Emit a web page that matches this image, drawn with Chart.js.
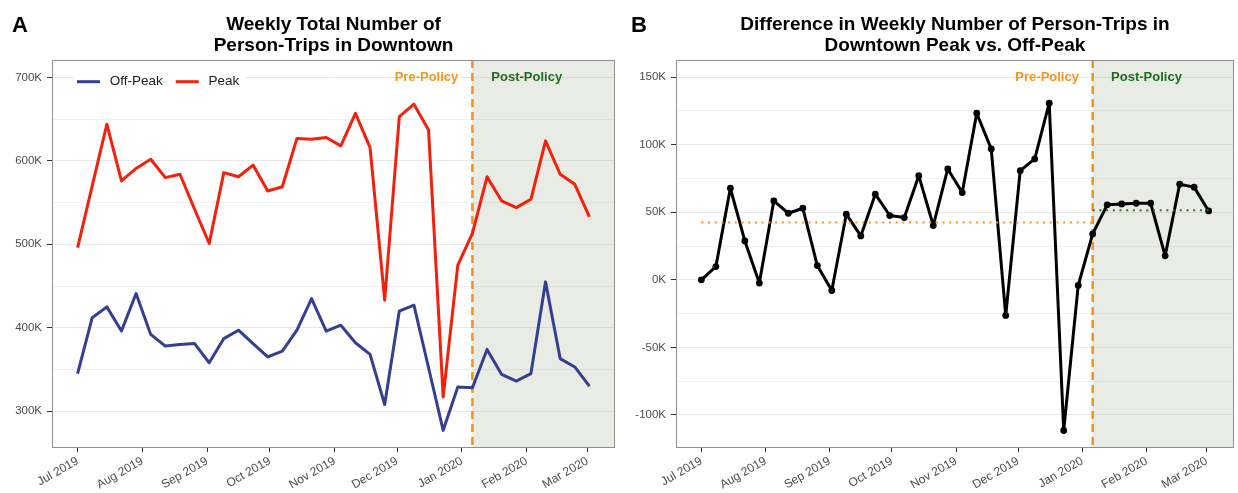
<!DOCTYPE html>
<html>
<head>
<meta charset="utf-8">
<title>Downtown person-trips</title>
<script src="https://cdn.jsdelivr.net/npm/chart.js@4.4.1/dist/chart.umd.min.js"></script>
<style>
  html, body { margin:0; padding:0; background:#fff; }
  #wrap { position:relative; width:1238px; height:493px; }
  canvas { position:absolute; top:0; }
  #chartA { left:0; }
  #chartB { left:619px; }
</style>
</head>
<body>
<div id="wrap">
  <canvas id="chartA" width="619" height="493"></canvas>
  <canvas id="chartB" width="619" height="493"></canvas>
</div>
<script>
// === Data ===
var weeks = ['2019-07-01','2019-07-08','2019-07-15','2019-07-22','2019-07-29',
  '2019-08-05','2019-08-12','2019-08-19','2019-08-26',
  '2019-09-02','2019-09-09','2019-09-16','2019-09-23','2019-09-30',
  '2019-10-07','2019-10-14','2019-10-21','2019-10-28',
  '2019-11-04','2019-11-11','2019-11-18','2019-11-25',
  '2019-12-02','2019-12-09','2019-12-16','2019-12-23','2019-12-30',
  '2020-01-06','2020-01-13','2020-01-20','2020-01-27',
  '2020-02-03','2020-02-10','2020-02-17','2020-02-24','2020-03-02'];

var offPeak = [345000, 412000, 425000, 396000, 441000, 392000, 378000, 380000, 381000, 358000,
  387000, 397000, 381000, 365000, 372000, 397000, 435000, 396000, 403000, 382000,
  368000, 308000, 420000, 427000, 352000, 277000, 329000, 328000, 374000, 344000,
  336000, 345000, 455000, 363000, 353000, 330000];

var peak = [496000, 570000, 644000, 576000, 591000, 602000, 580000, 584000, 542000, 501000,
  586000, 581000, 595000, 564000, 569000, 627000, 626000, 628000, 618000, 657000,
  616000, 433000, 653000, 668000, 637000, 317000, 475000, 513000, 581000, 552000,
  544000, 554000, 624000, 584000, 572000, 533000];

var difference = [0, 9800, 67800, 28800, -2400, 58400, 49300, 53000, 10600, -7900,
  48600, 32500, 63400, 47600, 46100, 77100, 40200, 82100, 64600, 123300,
  96900, -26400, 80800, 89500, 130700, -111500, -4200, 34000, 55500, 56200,
  56700, 56700, 17800, 70800, 68600, 51000];

var preMean = 42400;
var postMean = 51500;
var policyDate = '2020-01-06';

var monthTicks = ['2019-07-01','2019-08-01','2019-09-01','2019-10-01','2019-11-01',
  '2019-12-01','2020-01-01','2020-02-01','2020-03-01'];
var monthLabels = ['Jul 2019','Aug 2019','Sep 2019','Oct 2019','Nov 2019',
  'Dec 2019','Jan 2020','Feb 2020','Mar 2020'];

var ticksA = [300000, 350000, 400000, 450000, 500000, 550000, 600000, 650000, 700000];
var ticksB = [-100000, -75000, -50000, -25000, 0, 25000, 50000, 75000, 100000, 125000, 150000];

// === helpers ===
function day(s) { return (Date.parse(s) - Date.parse(weeks[0])) / 86400000; }
function pts(vals) { return vals.map(function(v, i) { return { x: day(weeks[i]), y: v }; }); }

var FONT = '"Liberation Sans", Arial, Helvetica, sans-serif';
Chart.defaults.font.family = FONT;
Chart.defaults.color = '#4d4d4d';

var ORANGE = '#f7941d';
var GREEN = '#1d6e1d';

// shading, dashed line, border, labels, titles
var panelPlugin = {
  id: 'panel',
  beforeDatasetsDraw: function(chart, args, o) {
    var ctx = chart.ctx, a = chart.chartArea;
    var x = chart.scales.x.getPixelForValue(day(policyDate));
    ctx.save();
    ctx.fillStyle = 'rgba(145,160,120,0.2)';
    ctx.fillRect(x, a.top, a.right - x, a.bottom - a.top);
    ctx.strokeStyle = ORANGE;
    ctx.lineWidth = 2.6;
    ctx.setLineDash([8, 5]);
    ctx.beginPath(); ctx.moveTo(x, a.top); ctx.lineTo(x, a.bottom); ctx.stroke();
    ctx.restore();
  },
  afterDraw: function(chart, args, o) {
    var ctx = chart.ctx, a = chart.chartArea;
    var sx = chart.scales.x, sy = chart.scales.y;
    ctx.save();
    // panel border
    ctx.strokeStyle = '#909090';
    ctx.lineWidth = 1;
    ctx.strokeRect(a.left + 0.5, a.top + 0.5, a.right - a.left - 1, a.bottom - a.top);

    // Pre / Post labels
    ctx.font = 'bold 13px ' + FONT;
    ctx.textAlign = 'center';
    ctx.textBaseline = 'middle';
    var ly = sy.getPixelForValue(o.labelY);
    ctx.fillStyle = ORANGE;
    ctx.fillText('Pre-Policy', sx.getPixelForValue(day(o.preAt)), ly);
    ctx.fillStyle = GREEN;
    ctx.fillText('Post-Policy', sx.getPixelForValue(day(o.postAt)), ly);

    // legend inside the panel
    if (o.legend) {
      var lx = a.left + 25, yy = 81.7;
      ctx.font = '13.5px ' + FONT;
      ctx.textAlign = 'left';
      var total = 0;
      chart.data.datasets.forEach(function(d) { total += 32.7 + ctx.measureText(d.label).width + 13; });
      ctx.fillStyle = '#fff';
      ctx.fillRect(lx - 3, 69, total - 4, 26);
      chart.data.datasets.forEach(function(d) {
        ctx.strokeStyle = d.borderColor;
        ctx.lineWidth = 3;
        ctx.beginPath(); ctx.moveTo(lx, yy); ctx.lineTo(lx + 23, yy); ctx.stroke();
        ctx.fillStyle = '#1a1a1a';
        ctx.fillText(d.label, lx + 32.7, yy);
        lx += 32.7 + ctx.measureText(d.label).width + 13;
      });
    }

    // title + panel letter
    ctx.fillStyle = '#000';
    ctx.textBaseline = 'alphabetic';
    ctx.textAlign = 'center';
    ctx.font = 'bold 19px ' + FONT;
    var cx = (a.left + a.right) / 2;
    ctx.fillText(o.title[0], cx, 29.5);
    ctx.fillText(o.title[1], cx, 51.2);
    ctx.textAlign = 'left';
    ctx.font = 'bold 22px ' + FONT;
    ctx.fillText(o.letter, 12, 31.6);
    ctx.restore();
  }
};

function scales(yMin, yMax, yTicks, majorStep, yWidth) {
  return {
    x: {
      type: 'linear',
      min: -12.25,
      max: 257.25,
      afterBuildTicks: function(s) { s.ticks = monthTicks.map(function(m) { return { value: day(m) }; }); },
      afterFit: function(s) { s.height = 46; },
      ticks: {
        autoSkip: false,
        minRotation: 30,
        maxRotation: 30,
        padding: 2,
        font: { size: 12 },
        color: '#4d4d4d',
        callback: function(v, i) { return monthLabels[i]; }
      },
      grid: { drawOnChartArea: false, tickLength: 5, tickColor: '#333', lineWidth: 1 },
      border: { display: false }
    },
    y: {
      min: yMin,
      max: yMax,
      afterBuildTicks: function(s) { s.ticks = yTicks.map(function(v) { return { value: v }; }); },
      afterFit: function(s) { s.width = yWidth; },
      ticks: {
        padding: 5,
        font: { size: 11.5 },
        color: '#4d4d4d',
        callback: function(v) { return v % majorStep === 0 ? (v / 1000) + 'K' : ''; }
      },
      grid: {
        color: function(c) { return c.tick && c.tick.value % majorStep === 0 ? '#e8e8e8' : '#f0f0f0'; },
        lineWidth: 1,
        tickLength: 5,
        tickWidth: 1,
        tickColor: function(c) { return c.tick && c.tick.value % majorStep === 0 ? '#333' : 'rgba(0,0,0,0)'; }
      },
      border: { display: false }
    }
  };
}

// === PANEL A ===
new Chart(document.getElementById('chartA'), {
  type: 'line',
  data: {
    datasets: [
      { label: 'Off-Peak', data: pts(offPeak), borderColor: '#353f91', borderWidth: 3,
        pointRadius: 0, tension: 0, borderJoinStyle: 'round' },
      { label: 'Peak', data: pts(peak), borderColor: '#f2200c', borderWidth: 3,
        pointRadius: 0, tension: 0, borderJoinStyle: 'round' }
    ]
  },
  options: {
    responsive: false,
    animation: false,
    layout: { padding: { top: 60, right: 4, bottom: 0, left: 0 } },
    scales: scales(257000, 721000, ticksA, 100000, 52),
    plugins: {
      legend: { display: false },
      tooltip: { enabled: false },
      panel: {
        title: ['Weekly Total Number of', 'Person-Trips in Downtown'],
        letter: 'A', legend: true,
        labelY: 700000, preAt: '2019-12-15', postAt: '2020-02-01'
      }
    }
  },
  plugins: [panelPlugin]
});

// === PANEL B ===
new Chart(document.getElementById('chartB'), {
  type: 'line',
  data: {
    datasets: [
      { label: 'Pre mean', data: [{ x: day(weeks[0]), y: preMean }, { x: day(policyDate), y: preMean }],
        borderColor: ORANGE, borderWidth: 2, borderDash: [2, 4.7], pointRadius: 0 },
      { label: 'Post mean', data: [{ x: day(policyDate), y: postMean }, { x: day(weeks[weeks.length - 1]), y: postMean }],
        borderColor: '#1e7b1e', borderWidth: 2.2, borderDash: [2, 4.7], pointRadius: 0 },
      { label: 'Difference', data: pts(difference), borderColor: '#000', borderWidth: 3,
        pointRadius: 3.4, pointBackgroundColor: '#000', pointBorderWidth: 0,
        tension: 0, borderJoinStyle: 'round' }
    ]
  },
  options: {
    responsive: false,
    animation: false,
    layout: { padding: { top: 60, right: 1, bottom: 0, left: 0 } },
    scales: scales(-123700, 162700, ticksB, 50000, 57),
    plugins: {
      legend: { display: false },
      tooltip: { enabled: false },
      panel: {
        title: ['Difference in Weekly Number of Person-Trips in', 'Downtown Peak vs. Off-Peak'],
        letter: 'B', legend: false,
        labelY: 150000, preAt: '2019-12-15', postAt: '2020-02-01'
      }
    }
  },
  plugins: [panelPlugin]
});
</script>
</body>
</html>
